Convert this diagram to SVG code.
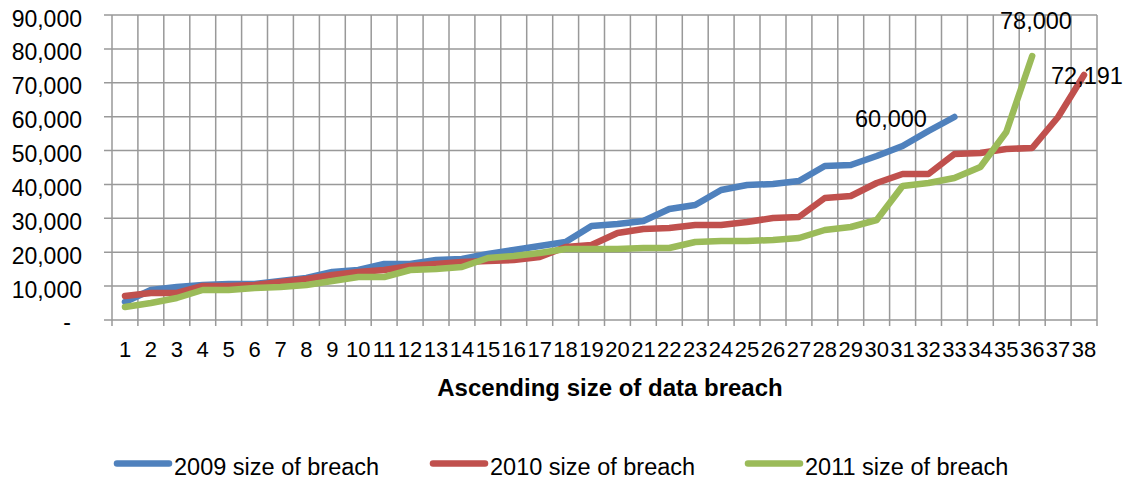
<svg xmlns="http://www.w3.org/2000/svg" width="1127" height="478" viewBox="0 0 1127 478">
<style>
text{font-family:"Liberation Sans",Arial,sans-serif;fill:#000}
.t{font-size:22.5px}
.yl{font-size:23px;text-anchor:end}
.xl{font-size:22px;text-anchor:middle}
.ttl{font-size:24px;font-weight:bold;text-anchor:middle}
.lg{font-size:23.5px}
.dl{font-size:23.5px}
.grid{stroke:#999;stroke-width:1.5;fill:none}
.s{fill:none;stroke-width:6.5;stroke-linejoin:round;stroke-linecap:round}
.b{stroke:#4F81BD}.r{stroke:#C0504D}.g{stroke:#9BBB59}
</style>
<rect width="1127" height="478" fill="#fff"/>
<g id="grid" class="grid">
<path d="M104 15H1097M104 48.9H1097M104 82.8H1097M104 116.7H1097M104 150.6H1097M104 184.4H1097M104 218.3H1097M104 252.2H1097M104 286.1H1097M104 320H1097"/>
<path d="M112 15V326M137.9 15V326M163.8 15V326M189.8 15V326M215.7 15V326M241.6 15V326M267.5 15V326M293.4 15V326M319.4 15V326M345.3 15V326M371.2 15V326M397.1 15V326M423.1 15V326M449 15V326M474.9 15V326M500.8 15V326M526.7 15V326M552.7 15V326M578.6 15V326M604.5 15V326M630.4 15V326M656.3 15V326M682.3 15V326M708.2 15V326M734.1 15V326M760 15V326M786 15V326M811.9 15V326M837.8 15V326M863.7 15V326M889.6 15V326M915.6 15V326M941.5 15V326M967.4 15V326M993.3 15V326M1019.2 15V326M1045.2 15V326M1071.1 15V326M1097 15V326"/>
</g>
<g id="y-axis-labels">
<text class="yl" x="82" y="26.5">90,000</text>
<text class="yl" x="82" y="60.4">80,000</text>
<text class="yl" x="82" y="94.3">70,000</text>
<text class="yl" x="82" y="128.2">60,000</text>
<text class="yl" x="82" y="162.1">50,000</text>
<text class="yl" x="82" y="195.9">40,000</text>
<text class="yl" x="82" y="229.8">30,000</text>
<text class="yl" x="82" y="263.7">20,000</text>
<text class="yl" x="82" y="297.6">10,000</text>
<text class="yl" x="71" y="330">-</text>
</g>
<g id="x-axis-labels">
<text class="xl" x="125" y="357">1</text>
<text class="xl" x="150.9" y="357">2</text>
<text class="xl" x="176.8" y="357">3</text>
<text class="xl" x="202.7" y="357">4</text>
<text class="xl" x="228.6" y="357">5</text>
<text class="xl" x="254.6" y="357">6</text>
<text class="xl" x="280.5" y="357">7</text>
<text class="xl" x="306.4" y="357">8</text>
<text class="xl" x="332.3" y="357">9</text>
<text class="xl" x="358.3" y="357">10</text>
<text class="xl" x="384.2" y="357">11</text>
<text class="xl" x="410.1" y="357">12</text>
<text class="xl" x="436" y="357">13</text>
<text class="xl" x="461.9" y="357">14</text>
<text class="xl" x="487.9" y="357">15</text>
<text class="xl" x="513.8" y="357">16</text>
<text class="xl" x="539.7" y="357">17</text>
<text class="xl" x="565.6" y="357">18</text>
<text class="xl" x="591.5" y="357">19</text>
<text class="xl" x="617.5" y="357">20</text>
<text class="xl" x="643.4" y="357">21</text>
<text class="xl" x="669.3" y="357">22</text>
<text class="xl" x="695.2" y="357">23</text>
<text class="xl" x="721.1" y="357">24</text>
<text class="xl" x="747.1" y="357">25</text>
<text class="xl" x="773" y="357">26</text>
<text class="xl" x="798.9" y="357">27</text>
<text class="xl" x="824.8" y="357">28</text>
<text class="xl" x="850.8" y="357">29</text>
<text class="xl" x="876.7" y="357">30</text>
<text class="xl" x="902.6" y="357">31</text>
<text class="xl" x="928.5" y="357">32</text>
<text class="xl" x="954.4" y="357">33</text>
<text class="xl" x="980.4" y="357">34</text>
<text class="xl" x="1006.3" y="357">35</text>
<text class="xl" x="1032.2" y="357">36</text>
<text class="xl" x="1058.1" y="357">37</text>
<text class="xl" x="1084" y="357">38</text>
<text class="ttl" x="610" y="396">Ascending size of data breach</text>
</g>
<g id="series">
<polyline id="s2009" class="s b" points="125,302 150.9,290 176.8,287 202.7,285 228.6,284 254.6,284 280.5,281 306.4,278 332.3,272 358.3,270 384.2,264 410.1,264 436,260 461.9,259 487.9,254 513.8,250 539.7,246 565.6,242 591.5,226 617.5,224 643.4,221 669.3,209 695.2,205 721.1,190 747.1,185 773,184 798.9,181 824.8,166 850.8,165 876.7,156 902.6,146 928.5,131 954.4,117"/>
<polyline id="s2010" class="s r" points="125,296 150.9,293 176.8,293 202.7,286 228.6,286 254.6,285 280.5,282 306.4,279 332.3,275 358.3,272 384.2,270 410.1,266 436,264 461.9,262 487.9,261 513.8,260 539.7,257 565.6,247 591.5,245 617.5,233 643.4,229 669.3,228 695.2,225 721.1,225 747.1,222 773,218 798.9,217 824.8,198 850.8,196 876.7,183 902.6,174 928.5,174 954.4,154 980.4,153 1006.3,149 1032.2,148 1058.1,117 1084,75"/>
<polyline id="s2011" class="s g" points="125,307 150.9,303 176.8,298 202.7,290 228.6,290 254.6,288 280.5,287 306.4,285 332.3,281 358.3,277 384.2,277 410.1,270 436,269 461.9,267 487.9,258 513.8,256 539.7,253 565.6,249 591.5,249 617.5,249 643.4,248 669.3,248 695.2,242 721.1,241 747.1,241 773,240 798.9,238 824.8,230 850.8,227 876.7,220 902.6,186 928.5,183 954.4,178 980.4,167 1006.3,132 1032.2,56"/>
</g>
<g id="data-labels">
<text class="dl" x="855" y="127">60,000</text>
<text class="dl" x="1000" y="29">78,000</text>
<text class="dl" x="1051" y="84">72,191</text>
</g>
<g id="legend">
<g id="legend-2009"><line class="s b" x1="117" y1="463.5" x2="169" y2="463.5"/><text class="lg" x="174" y="474.5">2009 size of breach</text></g>
<g id="legend-2010"><line class="s r" x1="433" y1="463.5" x2="485" y2="463.5"/><text class="lg" x="490" y="474.5">2010 size of breach</text></g>
<g id="legend-2011"><line class="s g" x1="748" y1="463.5" x2="800" y2="463.5"/><text class="lg" x="805" y="474.5">2011 size of breach</text></g>
</g>
</svg>
